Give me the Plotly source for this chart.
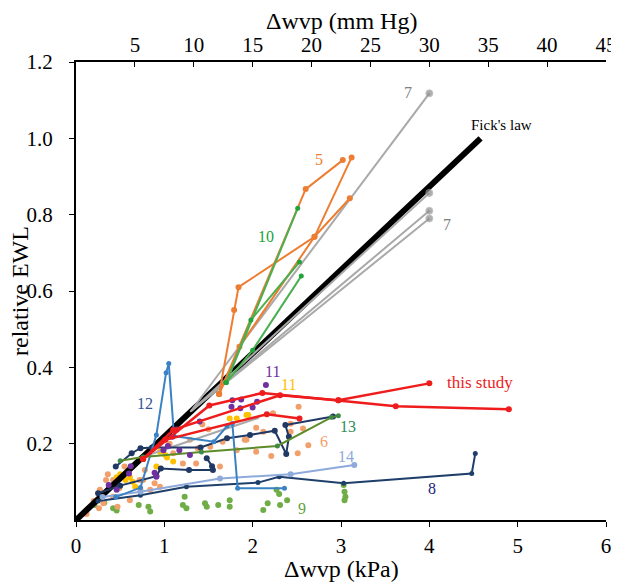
import plotly.graph_objects as go

# --- data (kPa, relative EWL) ---
fick_x = [0, 4.58]
fick_y = [0, 1.0]

# 7: gray lines sharing a start point
gray7_start_x = 1.3
gray7_start_y = 0.285
gray7_end_x = [4.0, 4.0, 4.0, 4.0]
gray7_end_y = [1.118, 0.857, 0.81, 0.79]
gray_short_x = [0.75, 2.07]
gray_short_y = [0.165, 0.268]

# 5: orange
orange5 = [
    ([1.62, 1.79, 1.84, 2.7, 3.1], [0.33, 0.55, 0.61, 0.742, 0.843]),
    ([1.62, 2.6, 3.02], [0.33, 0.867, 0.943]),
    ([1.62, 1.85, 2.7, 3.12], [0.33, 0.454, 0.742, 0.95]),
]

# 10: green
green10 = [
    ([1.7, 2.51], [0.36, 0.817]),
    ([1.7, 1.98, 2.53], [0.36, 0.524, 0.676]),
    ([1.7, 2.0, 2.55], [0.36, 0.445, 0.639]),
]

# this study: red
red_study = [
    ([0.76, 1.51, 2.11, 2.97, 3.62, 4.9], [0.16, 0.30, 0.333, 0.314, 0.298, 0.29]),
    ([0.76, 1.1, 2.31, 2.97, 4.0], [0.16, 0.236, 0.327, 0.314, 0.358]),
    ([0.76, 1.01, 2.16, 2.53], [0.16, 0.21, 0.277, 0.266]),
]

# 13: olive green
olive13_x = [0.5, 0.76, 1.42, 2.28, 2.89, 2.97]
olive13_y = [0.155, 0.165, 0.178, 0.194, 0.269, 0.273]

# 14: light blue
lblue14_x = [0.3, 0.73, 1.63, 2.43, 3.15]
lblue14_y = [0.06, 0.074, 0.109, 0.12, 0.144]

# 12: medium blue
blue12_x = [0.45, 0.73, 0.91, 1.02, 1.05, 1.11, 1.56, 1.71, 1.77, 1.83, 2.36]
blue12_y = [0.06, 0.085, 0.223, 0.386, 0.41, 0.22, 0.205, 0.246, 0.253, 0.083, 0.083]

# 8 and other navy series
navy8_x = [0.25, 0.73, 1.25, 2.06, 2.3, 3.03, 4.48, 4.52]
navy8_y = [0.05, 0.065, 0.087, 0.098, 0.113, 0.096, 0.122, 0.174]
navyA_x = [0.45, 0.63, 0.73, 0.86, 1.41, 1.71, 1.97, 2.25, 2.38, 2.41, 2.37, 2.91]
navyA_y = [0.14, 0.175, 0.188, 0.19, 0.19, 0.214, 0.223, 0.234, 0.173, 0.218, 0.249, 0.271]
navyB_x = [0.25, 0.5, 0.91, 0.96, 1.28, 1.55, 1.54, 1.48]
navyB_y = [0.07, 0.09, 0.115, 0.135, 0.131, 0.131, 0.141, 0.162]

# 11: purple points
purple11_x = [0.37, 0.46, 0.6, 0.62, 0.89, 0.91, 0.99, 1.04, 1.09, 1.14, 1.17, 1.29,
              1.4, 1.76, 1.77, 1.86, 1.87, 2.0, 2.05, 2.15]
purple11_y = [0.092, 0.079, 0.122, 0.141, 0.124, 0.113, 0.183, 0.194, 0.218, 0.237, 0.183, 0.170,
              0.258, 0.297, 0.314, 0.293, 0.316, 0.295, 0.31, 0.354]

# 11: yellow points
yellow11_x = [0.38, 0.46, 0.5, 0.56, 0.58, 0.61, 0.64, 0.67, 0.91, 0.95, 1.01, 1.03, 1.1,
              1.74, 1.82, 1.93, 1.95]
yellow11_y = [0.087, 0.112, 0.12, 0.105, 0.127, 0.112, 0.10, 0.087, 0.14, 0.179, 0.17, 0.164, 0.153,
              0.266, 0.266, 0.275, 0.275]

# 6: salmon points
salmon6_x = [0.12, 0.2, 0.26, 0.27, 0.31, 0.34, 0.36, 0.42, 0.42, 0.47, 0.49, 0.55, 0.61, 0.72,
             0.73, 0.76, 0.78, 0.84, 0.89, 0.95, 1.06, 1.1, 1.21, 1.29, 1.36, 1.38, 1.43, 1.5,
             1.52, 1.63, 1.66, 1.82, 1.91, 1.93, 2.04, 2.04, 2.12, 2.21, 2.23, 2.43, 2.43, 2.51,
             2.52, 2.57, 2.63]
salmon6_y = [0.016, 0.05, 0.031, 0.079, 0.044, 0.105, 0.12, 0.061, 0.105, 0.035, 0.083, 0.14, 0.052,
             0.105, 0.079, 0.105, 0.131, 0.079, 0.096, 0.087, 0.2, 0.175, 0.148, 0.21, 0.148, 0.188,
             0.25, 0.238, 0.192, 0.14, 0.205, 0.183, 0.21, 0.21, 0.179, 0.242, 0.231, 0.168, 0.28,
             0.252, 0.231, 0.175, 0.297, 0.24, 0.196]

# 9: green points
green9_x = [0.21, 0.32, 0.42, 0.46, 0.71, 0.82, 0.84, 1.21, 1.23, 1.25, 1.46, 1.48, 1.61, 1.74,
            1.74, 2.12, 2.17, 2.27, 2.3, 2.31, 2.39, 3.03, 3.04, 3.05, 3.04]
green9_y = [0.039, 0.045, 0.031, 0.025, 0.039, 0.035, 0.022, 0.039, 0.061, 0.031, 0.044, 0.035,
            0.039, 0.052, 0.035, 0.026, 0.044, 0.079, 0.068, 0.039, 0.052, 0.092, 0.074, 0.061, 0.052]

kpa_ticks = [0, 1, 2, 3, 4, 5, 6]
mmhg_ticks = [5, 10, 15, 20, 25, 30, 35, 40, 45]
ewl_ticks = [0.2, 0.4, 0.6, 0.8, 1.0, 1.2]

FONT = "Liberation Serif"

fig = go.Figure()


def add_dots(x, y, color, size=6):
    fig.add_trace(go.Scatter(x=x, y=y, mode="markers",
                             marker=dict(color=color, size=size), showlegend=False))


def add_line(x, y, color, width=2, msize=5, mcolor=None):
    fig.add_trace(go.Scatter(x=x, y=y, mode="lines+markers",
                             line=dict(color=color, width=width),
                             marker=dict(color=mcolor or color, size=msize),
                             showlegend=False))


add_dots(green9_x, green9_y, "#70ad47")
add_dots(salmon6_x, salmon6_y, "#f2a06b")
add_dots(yellow11_x, yellow11_y, "#ffc000")

fig.add_trace(go.Scatter(x=fick_x, y=fick_y, mode="lines",
                         line=dict(color="black", width=6), showlegend=False))

for ex, ey in zip(gray7_end_x, gray7_end_y):
    fig.add_trace(go.Scatter(x=[gray7_start_x, ex], y=[gray7_start_y, ey], mode="lines+markers",
                             line=dict(color="#a9a9a9", width=2),
                             marker=dict(color="#8c8c8c", size=[1, 7]), showlegend=False))
add_line(gray_short_x, gray_short_y, "#a9a9a9", msize=1)

add_line(navy8_x, navy8_y, "#1f3f6b")
add_line(navyA_x, navyA_y, "#1f3864", msize=6)
add_line(navyB_x, navyB_y, "#1f3864", msize=6)
add_line(lblue14_x, lblue14_y, "#8eaadb", msize=6)
add_line(blue12_x, blue12_y, "#3a82c4")
add_line(olive13_x, olive13_y, "#5b8c2a", mcolor="#3f8a45")

for x, y in orange5:
    add_line(x, y, "#ed7d31", msize=6)
for x, y in green10:
    add_line(x, y, "#4caf50", mcolor="#21a33a")

add_dots(purple11_x, purple11_y, "#7030a0")

for x, y in red_study:
    add_line(x, y, "#ee1c1c", width=2.5, msize=6)

# dummy trace so the mm Hg axis is drawn
fig.add_trace(go.Scatter(x=[], y=[], xaxis="x2", showlegend=False))

labels = [
    (3.76, 1.12, "7", "#808080", 16),
    (4.2, 0.773, "7", "#808080", 16),
    (4.82, 1.035, "Fick's law", "black", 15),
    (2.75, 0.945, "5", "#ed7d31", 16),
    (2.15, 0.744, "10", "#21a33a", 16),
    (2.22, 0.389, "11", "#7030a0", 16),
    (2.41, 0.354, "11", "#ffc000", 16),
    (0.78, 0.306, "12", "#2f5597", 16),
    (4.57, 0.359, "this study", "#ee1c1c", 17),
    (2.81, 0.207, "6", "#f2a06b", 16),
    (3.08, 0.245, "13", "#2e8b57", 16),
    (3.06, 0.166, "14", "#8eaadb", 16),
    (4.03, 0.083, "8", "#1a1a7a", 16),
    (2.56, 0.031, "9", "#5fa33a", 16),
]
for lx, ly, txt, col, fs in labels:
    fig.add_annotation(x=lx, y=ly, text=txt, showarrow=False,
                       font=dict(family=FONT, size=fs, color=col))

# axis titles placed relative to the plot area
title_font = dict(family=FONT, size=24, color="black")
fig.add_annotation(text="Δwvp (kPa)", xref="paper", yref="paper", x=0.5, y=0,
                   yanchor="middle", yshift=-49, showarrow=False, font=title_font)
fig.add_annotation(text="Δwvp (mm Hg)", xref="paper", yref="paper", x=0.5, y=1,
                   yanchor="middle", yshift=41, showarrow=False, font=title_font)
fig.add_annotation(text="relative EWL", xref="paper", yref="paper", x=0, y=0.5,
                   xanchor="center", yanchor="middle", xshift=-56, textangle=-90,
                   showarrow=False, font=title_font)

axis_common = dict(showline=True, linecolor="black", linewidth=2, showgrid=False,
                   zeroline=False, automargin=False, ticklen=5, tickcolor="black",
                   ticklabeloverflow="allow")

fig.update_layout(
    width=619, height=582,
    margin=dict(l=68, r=21, t=54, b=70),
    plot_bgcolor="white", paper_bgcolor="white",
    font=dict(family=FONT, size=21, color="black"),
    xaxis=dict(range=[0, 6], tickvals=kpa_ticks, ticks="outside", ticklabelstandoff=1,
               **axis_common),
    xaxis2=dict(range=[0, 45], tickvals=mmhg_ticks, overlaying="x", side="top", anchor="y",
                ticks="inside", ticklabelstandoff=0, **axis_common),
    yaxis=dict(range=[0, 1.2], tickvals=ewl_ticks, tickformat=".1f", ticks="outside",
               ticklabelstandoff=12, **axis_common),
)

fig.write_html("out.html")
